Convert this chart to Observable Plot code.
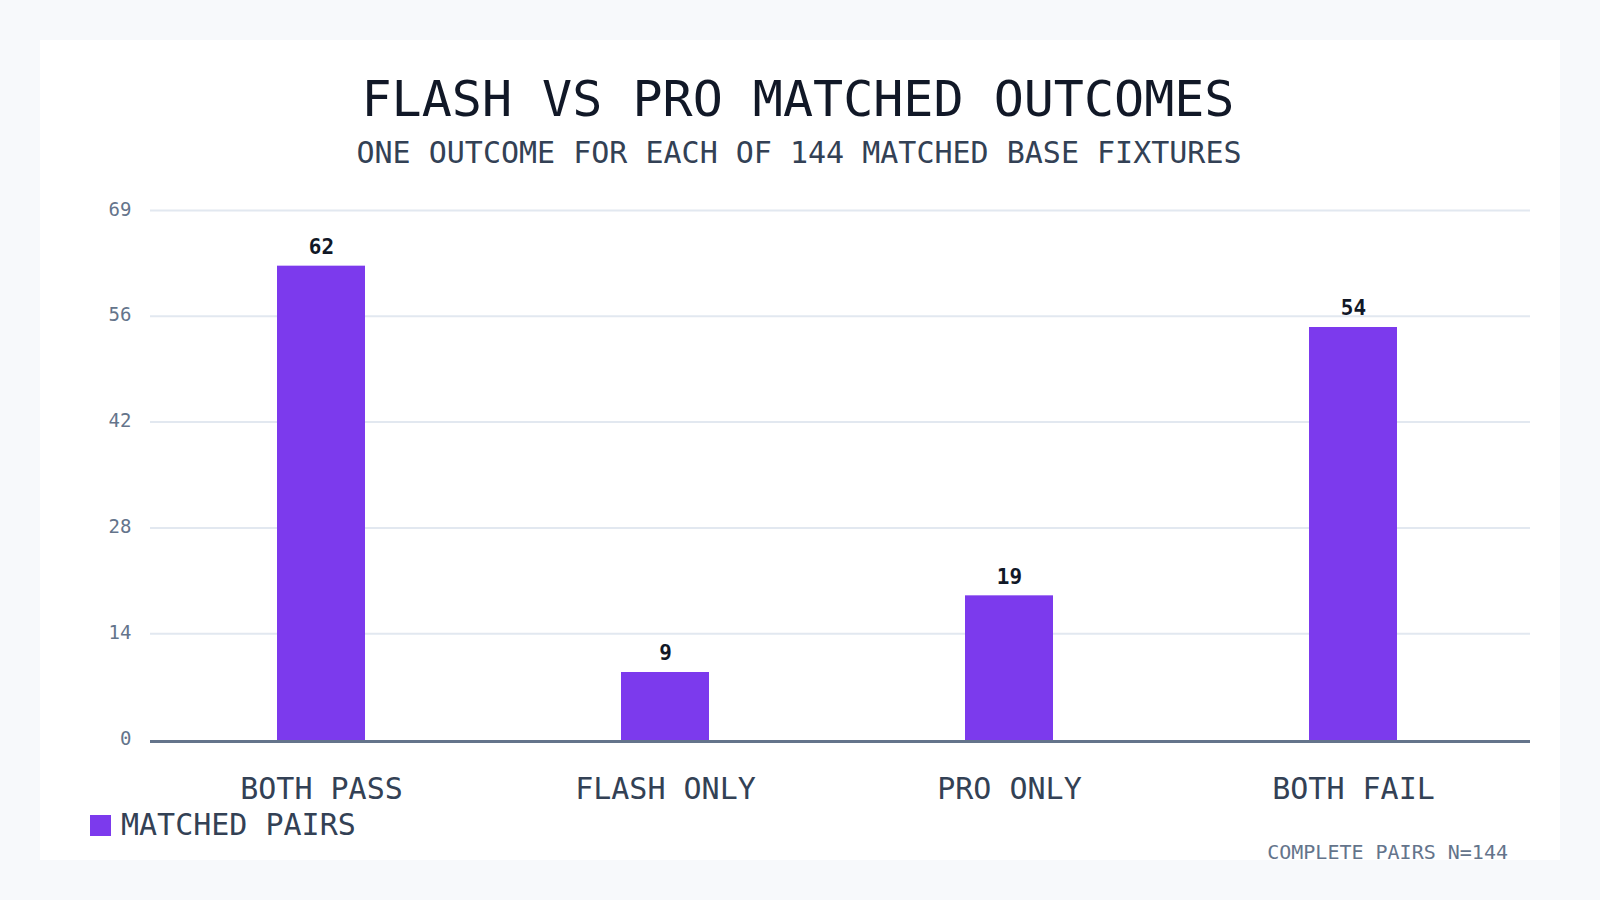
<!DOCTYPE html>
<html>
<head>
<meta charset="utf-8">
<script src="https://cdn.jsdelivr.net/npm/d3@7"></script>
<script src="https://cdn.jsdelivr.net/npm/@observablehq/plot@0.6"></script>
<style>
  html, body { margin: 0; padding: 0; }
  body { width: 1600px; height: 900px; background: #f7f9fb; position: relative; overflow: hidden;
         font-family: "DejaVu Sans Mono", monospace; }
  #card { position: absolute; left: 40px; top: 40px; width: 1520px; height: 820px; background: #ffffff; }
  .t { position: absolute; white-space: nowrap; }
  #title { left: -2px; width: 1600px; text-align: center; top: 70px; font-size: 50px; color: #111827; line-height: 58px; }
  #subtitle { left: -1px; width: 1600px; text-align: center; top: 135px; font-size: 30px; color: #334155; line-height: 36px; }
  #chart { position: absolute; left: 0; top: 0; }
  #legend { left: 90px; top: 807px; font-size: 30px; color: #334155; display: flex; align-items: center; line-height: 36px; }
  #legend .sw { width: 21px; height: 21px; background: #7c3aed; margin-right: 10px; }
  #footer { right: 92px; top: 840px; font-size: 20px; color: #64748b; line-height: 24px; }
</style>
</head>
<body>
<div id="card"></div>
<div id="title" class="t">FLASH VS PRO MATCHED OUTCOMES</div>
<div id="subtitle" class="t">ONE OUTCOME FOR EACH OF 144 MATCHED BASE FIXTURES</div>
<div id="chart"></div>
<div id="legend" class="t"><div class="sw"></div><span>MATCHED PAIRS</span></div>
<div id="footer" class="t">COMPLETE PAIRS N=144</div>
<script>
const categories = ["BOTH PASS", "FLASH ONLY", "PRO ONLY", "BOTH FAIL"];
const values = [62, 9, 19, 54];
const yMax = 69;
const yTickValues = [0, 13.8, 27.6, 41.4, 55.2, 69];
const yTickLabels = ["0", "14", "28", "42", "56", "69"];
const seriesName = "MATCHED PAIRS";

const data = categories.map((c, i) => ({category: c, value: values[i], series: seriesName}));
const tickLabel = new Map(yTickValues.map((v, i) => [v, yTickLabels[i]]));

const chart = Plot.plot({
  width: 1600,
  height: 820,
  marginLeft: 150,
  marginRight: 70,
  marginTop: 212,
  marginBottom: 79,
  style: {fontFamily: "DejaVu Sans Mono, monospace", background: "transparent", overflow: "visible"},
  x: {domain: categories, range: [147.5, 1527], paddingInner: 0.745, paddingOuter: 0.3725, align: 0.5},
  y: {domain: [0, yMax]},
  marks: [
    Plot.ruleY(yTickValues.filter(d => d > 0), {stroke: "#e2e8f0", strokeWidth: 2, dy: -2}),
    Plot.barY(data, {x: "category", y: "value", fill: "#7c3aed"}),
    Plot.ruleY([0], {stroke: "#64748b", strokeWidth: 3}),
    Plot.text(data, {x: "category", y: "value", text: d => String(d.value), dy: -19, fontSize: 21, fontWeight: "bold", fill: "#111827", lineAnchor: "middle"}),
    Plot.axisY({ticks: yTickValues, tickFormat: d => tickLabel.get(d), tickSize: 0, tickPadding: 19, fontSize: 19, color: "#64748b", label: null, dy: -3}),
    Plot.axisX({tickSize: 0, tickPadding: 36, fontSize: 30, color: "#334155", label: null})
  ]
});
document.getElementById("chart").appendChild(chart);
</script>
</body>
</html>
